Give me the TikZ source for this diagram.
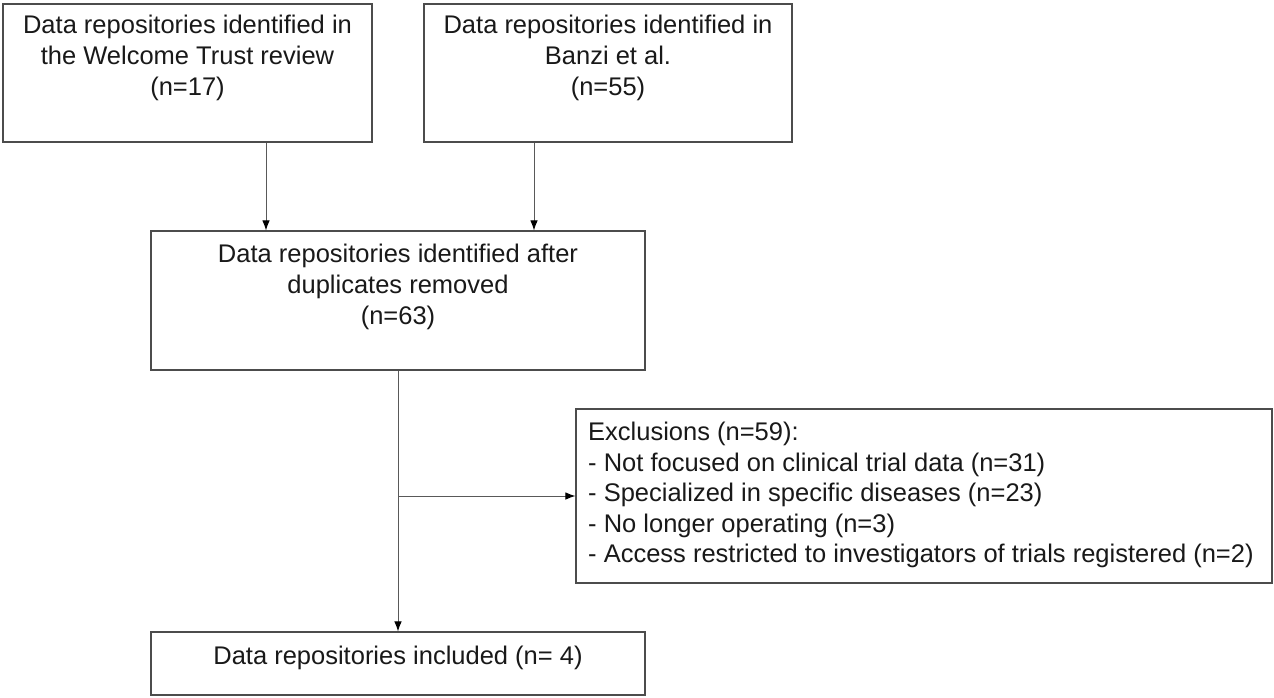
\documentclass[tikz,border=0pt]{standalone}
\usepackage{fontspec}
\setmainfont{Liberation Sans}
\usetikzlibrary{arrows.meta}
\tikzset{
  boxnode/.style={draw=black!70, line width=1.2pt, rectangle, inner sep=0pt},
  txt/.style={inner sep=0pt, anchor=north, text=black!90, align=center, font=\fontsize{25.5}{31}\selectfont},
  ltxt/.style={inner sep=0pt, anchor=north west, text=black!90, align=left, font=\fontsize{25.5}{30.5}\selectfont},
  conn/.style={draw=black!65, line width=0.9pt, -{Latex[length=10pt,width=7.5pt,color=black]}}
}
\begin{document}
\begin{tikzpicture}[x=1pt,y=1pt]
\useasboundingbox[fill=white] (0,0) rectangle (1274,-697);
% boxes
\node[boxnode, minimum width=369pt, minimum height=138pt] (b1) at (187.5,-73) {};
\node[boxnode, minimum width=368pt, minimum height=138pt] (b2) at (608,-73) {};
\node[boxnode, minimum width=494pt, minimum height=139pt] (b3) at (398,-300.5) {};
\node[boxnode, minimum width=696pt, minimum height=174pt] (b4) at (924,-496) {};
\node[boxnode, minimum width=494pt, minimum height=63pt] (b5) at (398,-663.5) {};
% texts
\node[txt] (t1) at (187.5,-15) {Data repositories identified in\\the Welcome Trust review\\(n=17)};
\node[txt] (t2) at (608,-15) {Data repositories identified in\\Banzi et al.\\(n=55)};
\node[txt] (t3) at (398,-244) {Data repositories identified after\\duplicates removed\\(n=63)};
\node[ltxt] (t4) at (588,-422) {Exclusions (n=59):\\- Not focused on clinical trial data (n=31)\\- Specialized in specific diseases (n=23)\\- No longer operating (n=3)\\- Access restricted to investigators of trials registered (n=2)};
\node[txt] (t5) at (398,-646) {Data repositories included (n= 4)};
% connectors
\draw[conn] (b1.south -| 266,0) -- (b3.north -| 266,0);
\draw[conn] (b2.south -| 534,0) -- (b3.north -| 534,0);
\draw[conn] (b3.south) -- (b5.north);
\coordinate (split) at (b3.south |- b4.west);
\draw[conn] (split) -- (b4.west);
\end{tikzpicture}
\end{document}
